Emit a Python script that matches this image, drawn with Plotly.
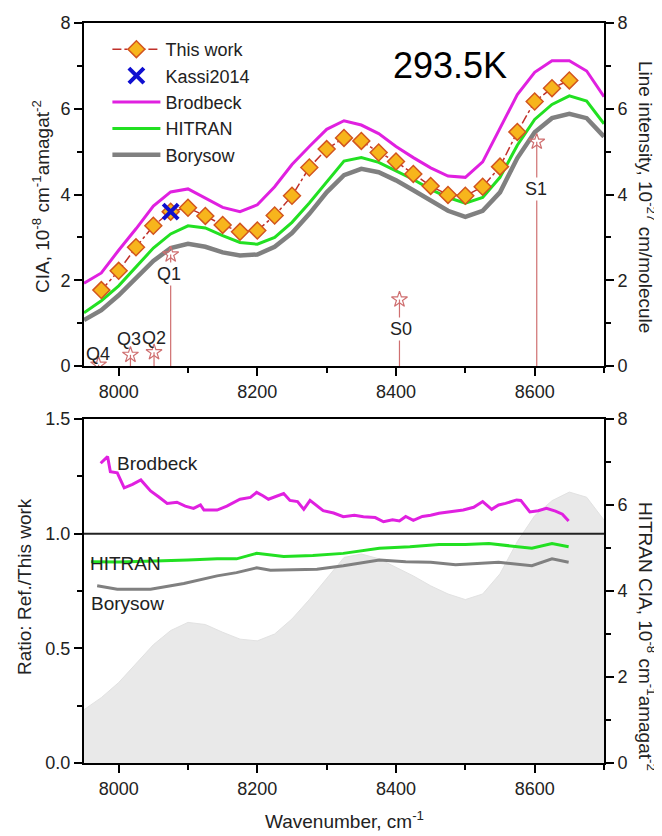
import plotly.graph_objects as go

# ---------------- data ----------------
# common wavenumber grid for model curves (cm-1)
wn_grid = [7950, 7975, 8000, 8025, 8050, 8075, 8100, 8125, 8150, 8175, 8200,
           8225, 8250, 8275, 8300, 8325, 8350, 8375, 8400, 8425, 8450, 8475,
           8500, 8525, 8550, 8575, 8600, 8625, 8650, 8675, 8700]
brodbeck = [1.93, 2.17, 2.70, 3.20, 3.73, 4.06, 4.13, 3.92, 3.70, 3.60, 3.76,
            4.18, 4.70, 5.12, 5.52, 5.72, 5.62, 5.42, 5.12, 4.86, 4.62, 4.43,
            4.40, 4.76, 5.55, 6.33, 6.85, 7.12, 7.12, 6.88, 6.28]
hitran = [1.24, 1.52, 1.87, 2.30, 2.75, 3.08, 3.27, 3.22, 3.04, 2.88, 2.84,
          3.00, 3.35, 3.80, 4.30, 4.78, 4.86, 4.75, 4.55, 4.35, 4.12, 3.93,
          3.80, 3.93, 4.40, 5.15, 5.75, 6.10, 6.30, 6.18, 5.65]
borysow = [1.07, 1.30, 1.65, 2.05, 2.45, 2.75, 2.85, 2.78, 2.65, 2.58, 2.60,
           2.78, 3.10, 3.55, 4.05, 4.45, 4.60, 4.52, 4.33, 4.10, 3.85, 3.62,
           3.48, 3.62, 4.05, 4.85, 5.45, 5.78, 5.88, 5.78, 5.35]

# this work (CIA)
tw_wn = [7975, 8000, 8025, 8050, 8075, 8100, 8125, 8150, 8175, 8200, 8225,
         8250, 8275, 8300, 8325, 8350, 8375, 8400, 8425, 8450, 8475, 8500,
         8525, 8550, 8575, 8600, 8625, 8650]
tw_cia = [1.77, 2.22, 2.77, 3.27, 3.60, 3.69, 3.50, 3.29, 3.13, 3.16, 3.51,
          3.97, 4.63, 5.06, 5.32, 5.25, 4.98, 4.77, 4.48, 4.20, 3.99, 3.97,
          4.18, 4.65, 5.46, 6.17, 6.48, 6.66]

kassi_wn = [8075]
kassi_cia = [3.60]

# H2 lines (line intensity, 1e-27 cm/molecule)
line_names = ["Q4", "Q3", "Q2", "Q1", "S0", "S1"]
line_wn = [7971, 8017, 8051, 8075, 8405, 8603]
line_int = [0.03, 0.26, 0.32, 2.60, 1.55, 5.23]
label_wn = [7970, 8015, 8051, 8073, 8407, 8602]
label_y = [0.29, 0.63, 0.65, 2.14, 0.86, 4.13]

# ratios Ref./This work
r_brod_wn = [7974, 7984, 7988, 7998, 8008, 8020, 8032, 8046, 8058, 8070, 8084,
             8096, 8108, 8118, 8123, 8142, 8156, 8175, 8190, 8199, 8208, 8216,
             8238, 8247, 8258, 8267, 8276, 8295, 8310, 8324, 8340, 8353, 8370,
             8382, 8395, 8405, 8414, 8425, 8438, 8450, 8462, 8486, 8497, 8512,
             8525, 8538, 8548, 8558, 8574, 8580, 8593, 8605, 8617, 8630, 8640,
             8649]
r_brod = [1.307, 1.336, 1.27, 1.265, 1.20, 1.215, 1.234, 1.186, 1.16, 1.132,
          1.137, 1.12, 1.11, 1.125, 1.103, 1.103, 1.12, 1.15, 1.158, 1.18,
          1.165, 1.15, 1.175, 1.145, 1.14, 1.106, 1.145, 1.10, 1.09, 1.074,
          1.08, 1.074, 1.07, 1.052, 1.06, 1.055, 1.075, 1.058, 1.075, 1.08,
          1.089, 1.098, 1.103, 1.115, 1.14, 1.106, 1.125, 1.132, 1.147, 1.145,
          1.095, 1.10, 1.11, 1.098, 1.085, 1.055]
r_hit_wn = [7960, 8000, 8040, 8070, 8100, 8142, 8170, 8199, 8238, 8280, 8324,
            8376, 8420, 8462, 8500, 8534, 8570, 8596, 8625, 8649]
r_hit = [0.878, 0.876, 0.880, 0.884, 0.885, 0.890, 0.890, 0.914, 0.900, 0.905,
         0.914, 0.936, 0.943, 0.953, 0.953, 0.957, 0.945, 0.936, 0.957, 0.943]
r_bor_wn = [7969, 7998, 8046, 8094, 8142, 8170, 8199, 8219, 8286, 8324, 8376,
            8414, 8450, 8486, 8548, 8596, 8625, 8649]
r_bor = [0.773, 0.758, 0.758, 0.783, 0.816, 0.830, 0.851, 0.840, 0.845, 0.860,
         0.885, 0.878, 0.875, 0.864, 0.875, 0.860, 0.890, 0.875]

x_ticks = [8000, 8200, 8400, 8600]

# ---------------- figure ----------------
FONT = "Liberation Sans, Arial, sans-serif"
MAG = "#e020e0"
GRN = "#22e022"
GRY = "#808080"
STICK = "#cf6f70"

fig = go.Figure()

# top panel: model curves
fig.add_trace(go.Scatter(x=wn_grid, y=brodbeck, mode="lines", name="Brodbeck",
                         line=dict(color=MAG, width=3), legendrank=3,
                         xaxis="x", yaxis="y"))
fig.add_trace(go.Scatter(x=wn_grid, y=hitran, mode="lines", name="HITRAN",
                         line=dict(color=GRN, width=3), legendrank=4,
                         xaxis="x", yaxis="y"))
fig.add_trace(go.Scatter(x=wn_grid, y=borysow, mode="lines", name="Borysow",
                         line=dict(color=GRY, width=4.5), legendrank=5,
                         xaxis="x", yaxis="y"))
fig.add_trace(go.Scatter(x=tw_wn, y=tw_cia, mode="lines+markers", name="This work",
                         line=dict(color="#c0302a", width=1.5, dash="dashdot"),
                         marker=dict(symbol="diamond", size=13, color="#f7b51c",
                                     line=dict(color="#d2551e", width=1.5)),
                         legendrank=1, xaxis="x", yaxis="y"))
fig.add_trace(go.Scatter(x=kassi_wn, y=kassi_cia, mode="markers", name="Kassi2014",
                         marker=dict(symbol="x-thin", size=15,
                                     line=dict(color="#1010d0", width=4)),
                         legendrank=2, xaxis="x", yaxis="y"))

# stick lines (right axis)
sx, sy = [], []
for p, v in zip(line_wn, line_int):
    sx += [p, p, None]
    sy += [0, v, None]
fig.add_trace(go.Scatter(x=sx, y=sy, mode="lines", showlegend=False,
                         line=dict(color=STICK, width=1.2), xaxis="x", yaxis="y2"))
fig.add_trace(go.Scatter(x=line_wn, y=line_int, mode="markers", showlegend=False,
                         marker=dict(symbol="star-open", size=12, color=STICK,
                                     line=dict(width=1.2)),
                         xaxis="x", yaxis="y2"))

# bottom panel: HITRAN CIA shaded on right axis (base layer)
fig.add_trace(go.Scatter(x=wn_grid, y=hitran, mode="lines", fill="tozeroy",
                         fillcolor="#e9e9e9", line=dict(color="#e2e2e2", width=1),
                         showlegend=False, xaxis="x2", yaxis="y3"))
# ratio lines on left overlay axis
fig.add_trace(go.Scatter(x=r_brod_wn, y=r_brod, mode="lines", showlegend=False,
                         line=dict(color=MAG, width=3), xaxis="x2", yaxis="y4"))
fig.add_trace(go.Scatter(x=r_hit_wn, y=r_hit, mode="lines", showlegend=False,
                         line=dict(color=GRN, width=3), xaxis="x2", yaxis="y4"))
fig.add_trace(go.Scatter(x=r_bor_wn, y=r_bor, mode="lines", showlegend=False,
                         line=dict(color=GRY, width=3), xaxis="x2", yaxis="y4"))

axis_common = dict(showline=True, linecolor="black", linewidth=2, ticks="outside",
                   ticklen=8, tickwidth=2, tickcolor="black", showgrid=False,
                   zeroline=False, automargin=False,
                   tickfont=dict(size=18, color="#222", family=FONT))
minor_common = dict(ticks="outside", ticklen=5, tickwidth=2, tickcolor="black")

XR = [7950, 8700]
TOP_D = [0.5365, 1.0]
BOT_D = [0.0, 0.4649]

# page body has an 8px default margin -> figure is 8px smaller, offsets reduced
W, H = 654, 828
ML, MR, MT, MB = 76, 58, 15, 73
PH = H - MT - MB  # plot-area height in px


def py(yp):
    """window pixel row -> paper fraction"""
    return (H - MB + 8 - yp) / PH


fig.update_layout(
    width=W, height=H,
    margin=dict(l=ML, r=MR, t=MT, b=MB, autoexpand=False),
    paper_bgcolor="white", plot_bgcolor="white",
    font=dict(family=FONT, size=18, color="#222"),
    xaxis=dict(axis_common, domain=[0, 1], range=XR, anchor="y", tickvals=x_ticks,
               mirror=True, minor=dict(minor_common, dtick=100, tick0=8000)),
    yaxis=dict(axis_common, domain=TOP_D, range=[0, 8], dtick=2, anchor="x",
               minor=dict(minor_common, dtick=1)),
    yaxis2=dict(axis_common, overlaying="y", side="right", range=[0, 8], dtick=2,
                anchor="x", minor=dict(minor_common, dtick=1)),
    xaxis2=dict(axis_common, domain=[0, 1], range=XR, anchor="y3", tickvals=x_ticks,
                mirror=True, minor=dict(minor_common, dtick=100, tick0=8000)),
    yaxis3=dict(axis_common, domain=BOT_D, range=[0, 8], dtick=2, anchor="x2",
                side="right", minor=dict(minor_common, dtick=1)),
    yaxis4=dict(axis_common, overlaying="y3", side="left", range=[0, 1.5], dtick=0.5,
                tickformat=".1f", anchor="x2", minor=dict(minor_common, dtick=0.25)),
    legend=dict(x=0.045, y=py(31), xanchor="left", yanchor="top",
                bgcolor="rgba(0,0,0,0)", font=dict(size=18, color="#222", family=FONT),
                itemwidth=48, tracegroupgap=0),
    showlegend=True,
)

# horizontal reference line at ratio 1.0
fig.add_shape(type="line", xref="x2 domain", x0=0, x1=1, yref="y4", y0=1, y1=1,
              line=dict(color="#222", width=2))

ann = []
ann.append(dict(text="293.5K", x=8478, y=7.02, xref="x", yref="y", showarrow=False,
                font=dict(size=36, color="black", family=FONT)))
for name, lx, ly in zip(line_names, label_wn, label_y):
    ann.append(dict(text=name, x=lx, y=ly, xref="x", yref="y2", showarrow=False,
                    font=dict(size=18, color="#222", family=FONT),
                    bgcolor="white" if name in ("Q1", "S0", "S1") else None,
                    borderpad=1))
ann.append(dict(text="Brodbeck", x=7995, y=1.308, xref="x2", yref="y4",
                xanchor="left", showarrow=False, font=dict(size=19, color="#222")))
ann.append(dict(text="HITRAN", x=7956, y=0.87, xref="x2", yref="y4",
                xanchor="left", showarrow=False, font=dict(size=19, color="#222")))
ann.append(dict(text="Borysow", x=7957, y=0.696, xref="x2", yref="y4",
                xanchor="left", showarrow=False, font=dict(size=19, color="#222")))
# axis titles
title_font = dict(size=19, color="#222")
ann.append(dict(text="CIA, 10<sup>-8</sup> cm<sup>-1</sup>amagat<sup>-2</sup>",
                xref="paper", x=0, xshift=-43, xanchor="center",
                yref="paper", y=py(197), yanchor="middle",
                textangle=-90, showarrow=False, font=title_font))
ann.append(dict(text="Ratio: Ref./This work",
                xref="paper", x=0, xshift=-60, xanchor="center",
                yref="paper", y=py(587), yanchor="middle",
                textangle=-90, showarrow=False, font=title_font))
ann.append(dict(text="Line intensity, 10<sup>-27</sup> cm/molecule",
                xref="paper", x=1, xshift=43, xanchor="center",
                yref="paper", y=py(197), yanchor="middle",
                textangle=90, showarrow=False, font=title_font))
ann.append(dict(text="HITRAN CIA, 10<sup>-8</sup> cm<sup>-1</sup>amagat<sup>-2</sup>",
                xref="paper", x=1, xshift=43, xanchor="center",
                yref="paper", y=py(636), yanchor="middle",
                textangle=90, showarrow=False, font=title_font))
ann.append(dict(text="Wavenumber, cm<sup>-1</sup>",
                xref="paper", x=0.5, xanchor="center",
                yref="paper", y=py(820), yanchor="middle",
                showarrow=False, font=title_font))
fig.update_layout(annotations=ann)

fig.write_html("out.html")
